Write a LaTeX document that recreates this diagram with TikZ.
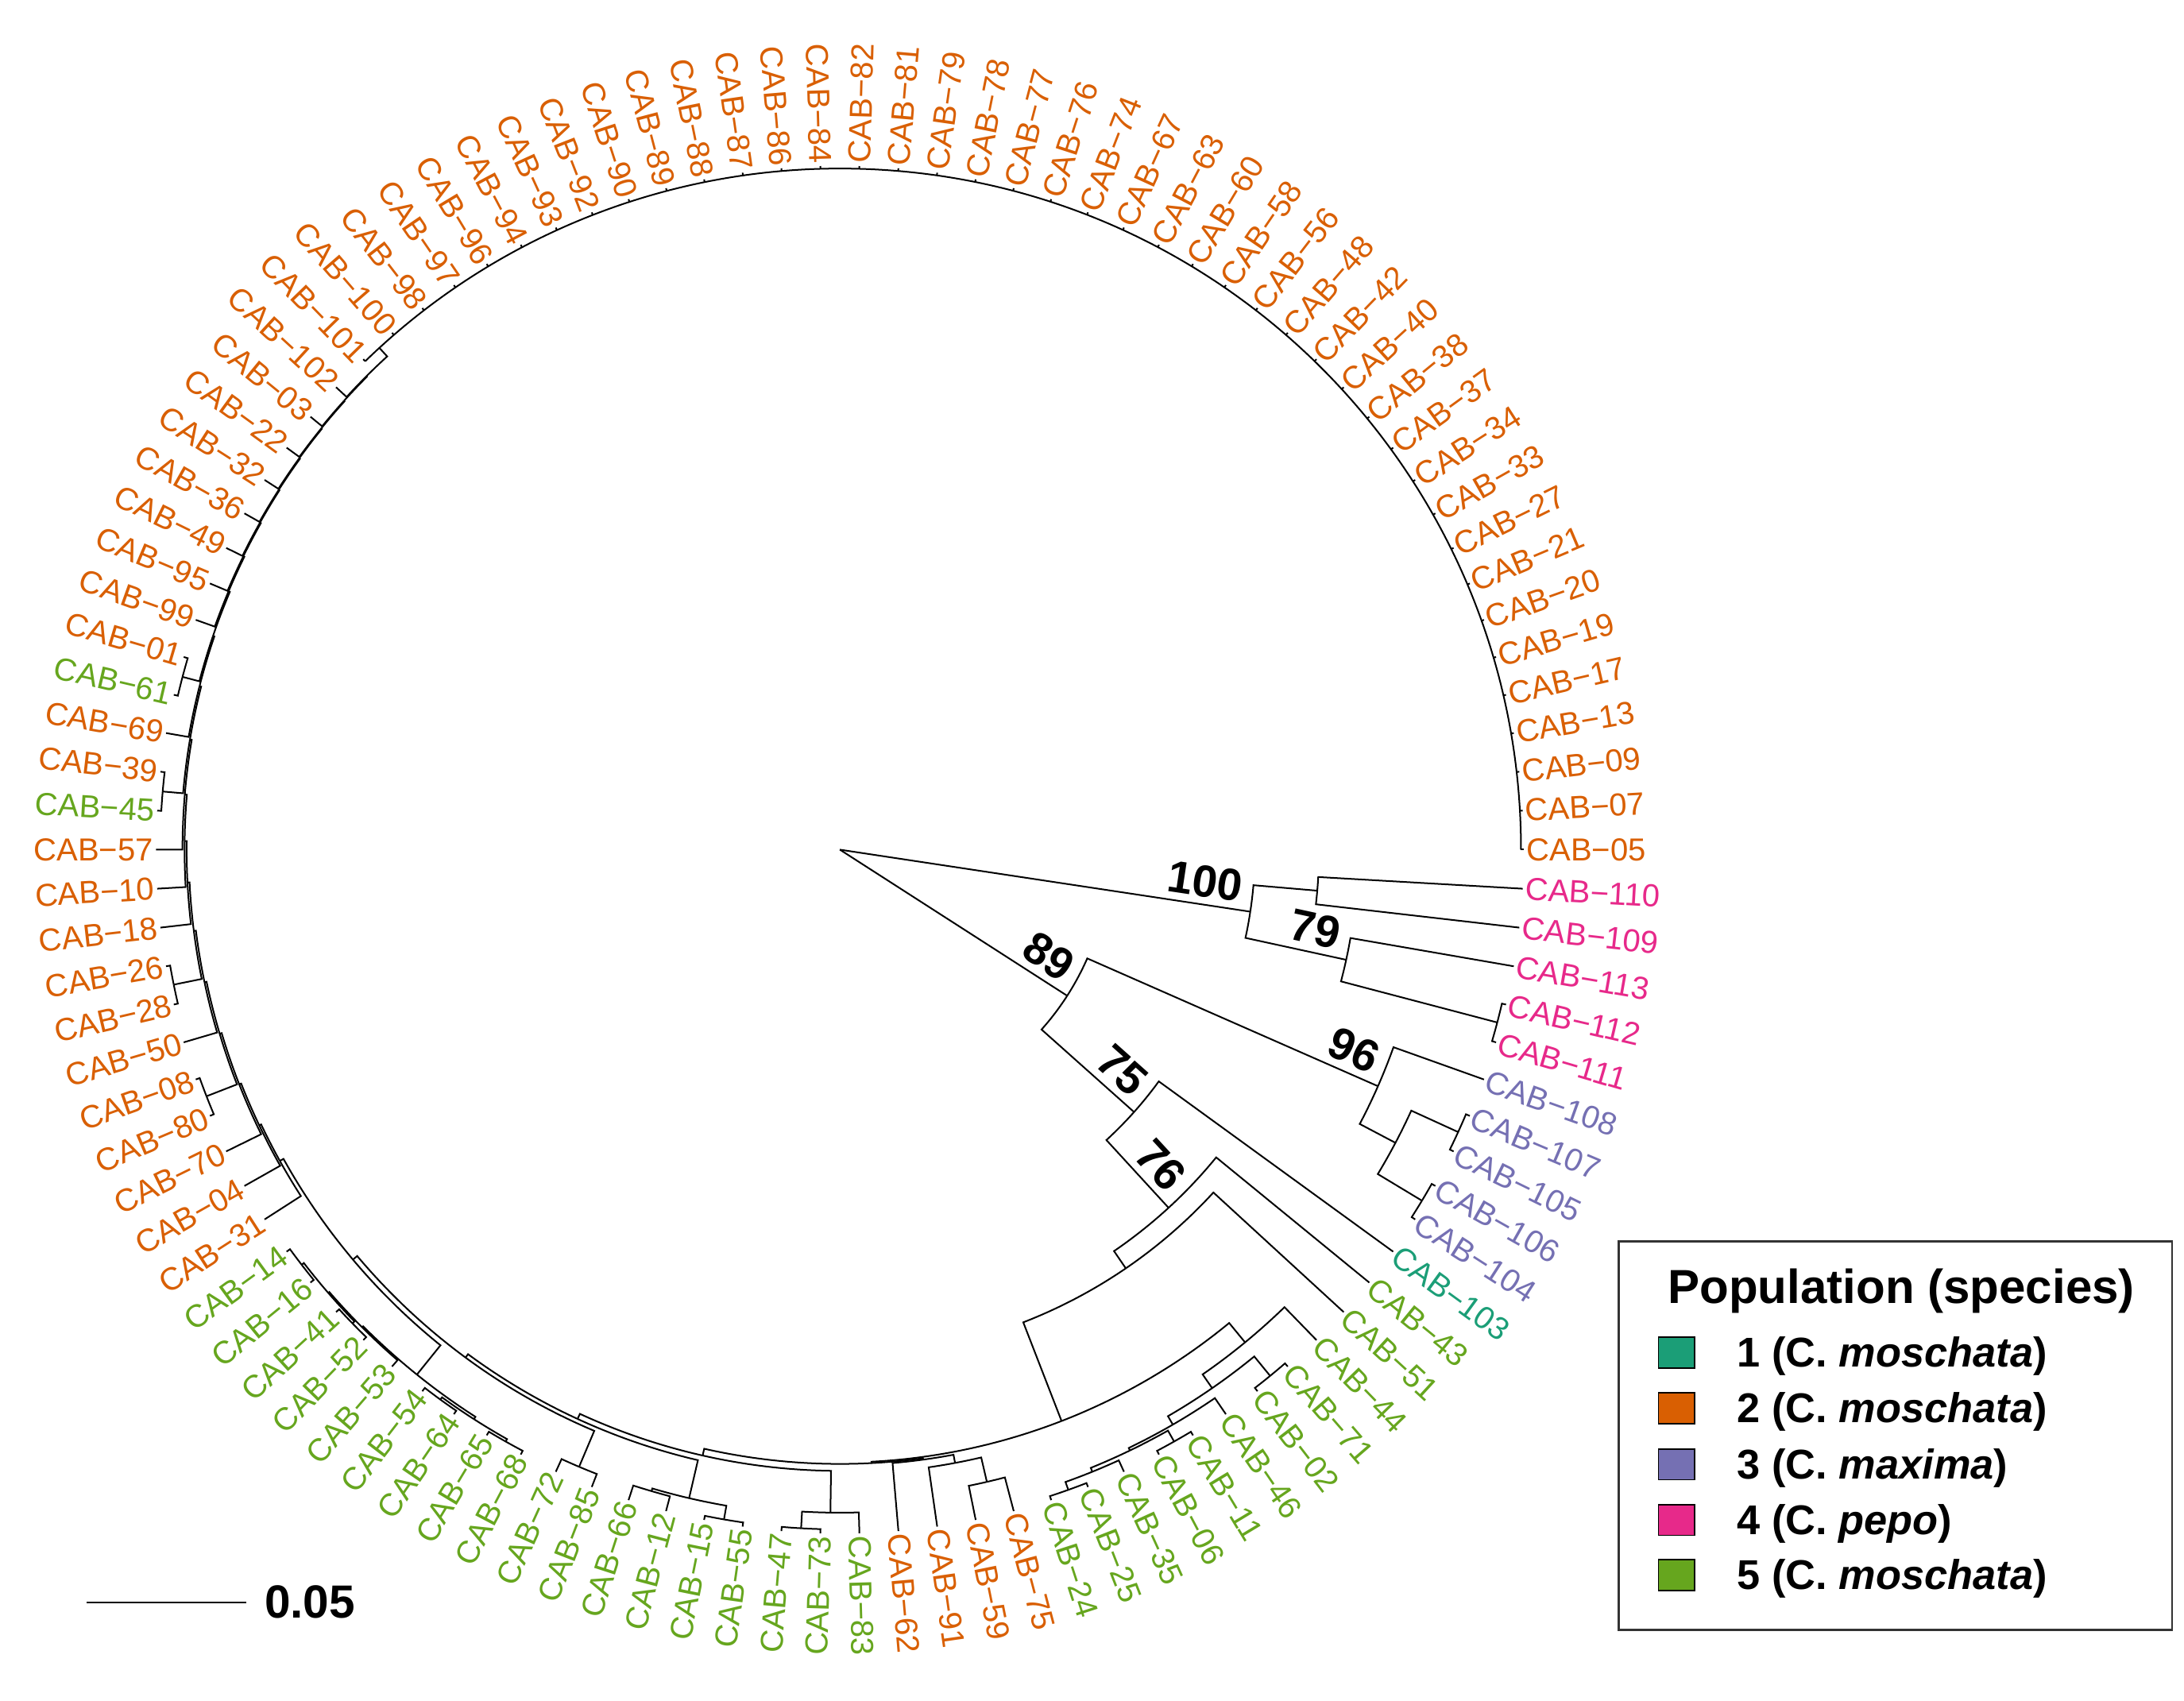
\documentclass[tikz,border=0pt]{standalone}
\usepackage{fontspec}
\setmainfont{Liberation Sans}
\definecolor{cor}{HTML}{D95F02}
\definecolor{cgr}{HTML}{66A61E}
\definecolor{cte}{HTML}{1B9E77}
\definecolor{cpu}{HTML}{7570B3}
\definecolor{cpk}{HTML}{E7298A}
\newcommand\kk{3.2727273}
% branch: parent y, parent r, child y, child r
\newcommand\brn[4]{%
 \pgfmathsetmacro\brA{#1*\kk}\pgfmathsetmacro\brB{#3*\kk}%
 \draw[brl] (\brA:#2) arc[start angle=\brA, end angle=\brB, radius=#2] -- (\brB:#4);}
\newcommand\tipe[3]{\brn{#1}{#2}{#3}{491}}
\newcommand\catn[5]{\tipe{#1}{#2}{#3}\brn{#1}{#2}{#4}{#5}}
\newcommand\labs[3]{%
 \foreach \n [count=\j from #1] in {#3} {%
  \pgfmathsetmacro\ang{\j*\kk}%
  \pgfmathtruncatemacro\flip{and(\ang>90,\ang<270)}%
  \ifnum\flip=1\relax
   \node[lab,text=#2,anchor=east,rotate=\ang+180] (t\j) at (\ang:493) {CAB−\n};%
  \else
   \node[lab,text=#2,anchor=west,rotate=\ang] (t\j) at (\ang:493) {CAB−\n};%
  \fi
 }}
\newcommand\bsn[4]{%
 \pgfmathsetmacro\bsA{#2*\kk}%
 \path ({\bsA}:{#3-8}) ++({\bsA+90}:5) node[bsl, rotate=\bsA, anchor=south east] (#1) {#4};}
\begin{document}
\begin{tikzpicture}[x=0.02cm,y=0.02cm,
  brl/.style={line width=0.65pt, black},
  lab/.style={font=\fontsize{13}{13}\selectfont, inner sep=0pt, outer sep=0pt},
  bsl/.style={font=\bfseries\fontsize{18.4}{18}\selectfont, inner sep=0pt},
  sq/.style={draw=black, line width=0.5pt, minimum width=0.52cm, minimum height=0.44cm, inner sep=0pt},
  lit/.style={font=\bfseries\fontsize{17}{17}\selectfont, inner sep=0pt, anchor=base west}]
\fill[white] (-603,-611) rectangle (965,610);
\useasboundingbox (-603,-611) rectangle (965,610);
\coordinate (root) at (0,0);
% root branches
\draw[brl] (root) -- ({107.375*\kk}:298);
\draw[brl] (root) -- ({100.0*\kk}:194);
% pink clade
\brn{107.375}{298}{108.5}{344}
\brn{107.375}{298}{106.25}{372}
\tipe{108.5}{344}{109}
\tipe{108.5}{344}{108}
\tipe{106.25}{372}{107}
\brn{106.25}{372}{105.5}{488}
\tipe{105.5}{488}{106}
\tipe{105.5}{488}{105}
% node 89
\brn{100.0}{194}{102.75}{422}
\brn{100.0}{194}{97.25}{283}
\tipe{102.75}{422}{104}
\brn{102.75}{422}{101.5}{451}
\brn{101.5}{451}{102.5}{488}
\brn{101.5}{451}{100.5}{488}
\tipe{102.5}{488}{102}\tipe{102.5}{488}{103}
\tipe{100.5}{488}{100}\tipe{100.5}{488}{101}
\tipe{97.25}{283}{99}
\brn{97.25}{283}{95.5}{349}
\tipe{95.5}{349}{98}
\brn{95.5}{349}{92.99}{364}
\tipe{92.99}{364}{97}
\brn{92.99}{364}{88.98}{440}
\brn{88.98}{440}{94.55}{458}
\brn{88.98}{440}{83.4}{441}
% right green clade
\tipe{94.55}{458}{96}
\brn{94.55}{458}{93.09}{470}
\brn{93.09}{470}{94.5}{488}
\tipe{94.5}{488}{95}\tipe{94.5}{488}{94}
\brn{93.09}{470}{91.69}{477}
\tipe{91.69}{477}{93}
\brn{91.69}{477}{90.375}{479}
\brn{90.375}{479}{91.5}{488}
\tipe{91.5}{488}{92}\tipe{91.5}{488}{91}
\brn{90.375}{479}{89.25}{482}
\tipe{89.25}{482}{90}
\brn{89.25}{482}{88.5}{488}
\tipe{88.5}{488}{89}\tipe{88.5}{488}{88}
% L
\brn{83.4}{441}{84.875}{442}
\brn{83.4}{441}{78.6}{446}
\tipe{84.875}{442}{84}
\brn{84.875}{442}{85.75}{448}
\tipe{85.75}{448}{85}
\brn{85.75}{448}{86.5}{466}
\tipe{86.5}{466}{86}\tipe{86.5}{466}{87}
% A
\brn{78.6}{446}{82.25}{476}
\brn{78.6}{446}{74.94}{450}
\tipe{82.25}{476}{83}
\brn{82.25}{476}{81.5}{488}
\tipe{81.5}{488}{81}\tipe{81.5}{488}{82}
\brn{74.94}{450}{78.5}{478}
\brn{74.94}{450}{71.38}{453}
\brn{78.5}{478}{79.5}{488}
\tipe{79.5}{488}{79}\tipe{79.5}{488}{80}
\brn{78.5}{478}{77.5}{480}
\tipe{77.5}{480}{77}\tipe{77.5}{480}{78}
\brn{71.38}{453}{75.5}{481}
\tipe{75.5}{481}{75}\tipe{75.5}{481}{76}
\brn{71.38}{453}{67.25}{457}
\brn{67.25}{457}{70.625}{484}
\brn{67.25}{457}{63.88}{460}
% green clade G
\brn{70.625}{484}{68.75}{485}
\brn{70.625}{484}{72.5}{486}
\brn{68.75}{485}{67.5}{486}
\tipe{68.75}{485}{70}
\brn{67.5}{486}{66.5}{488}
\brn{67.5}{486}{68.5}{488}
\tipe{66.5}{488}{66}\tipe{66.5}{488}{67}
\tipe{68.5}{488}{68}\tipe{68.5}{488}{69}
\brn{72.5}{486}{71.5}{488}
\brn{72.5}{486}{73.5}{488}
\tipe{71.5}{488}{71}\tipe{71.5}{488}{72}
\tipe{73.5}{488}{73}\tipe{73.5}{488}{74}
% U chain
\catn{63.88}{460}{65}{62.76}{461.5}
\catn{62.76}{461.5}{64}{61.52}{463}
\catn{61.52}{463}{63}{60.05}{464.5}
\brn{60.05}{464.5}{61.5}{488}\tipe{61.5}{488}{61}\tipe{61.5}{488}{62}
\brn{60.05}{464.5}{58.6}{466}
\catn{58.6}{466}{60}{57.19}{467.5}
\brn{57.19}{467.5}{58.5}{488}\tipe{58.5}{488}{58}\tipe{58.5}{488}{59}
\brn{57.19}{467.5}{55.88}{469}
\catn{55.88}{469}{57}{54.77}{470.5}
\catn{54.77}{470.5}{56}{53.53}{472}
\catn{53.53}{472}{55}{52.06}{473.3}
\brn{52.06}{473.3}{53.5}{488}\tipe{53.5}{488}{53}\tipe{53.5}{488}{54}
\brn{52.06}{473.3}{50.625}{474.5}
\catn{50.625}{474.5}{52}{49.25}{475.5}
\brn{49.25}{475.5}{50.5}{488}\tipe{50.5}{488}{50}\tipe{50.5}{488}{51}
\brn{49.25}{475.5}{48}{476.5}
\catn{48}{476.5}{49}{47}{477.3}
\catn{47}{477.3}{48}{46.01}{478}
\catn{46.01}{478}{47}{45.02}{478.6}
\catn{45.02}{478.6}{46}{44.03}{479.2}
\catn{44.03}{479.2}{45}{43.06}{479.7}
\catn{43.06}{479.7}{44}{42.125}{480.2}
\catn{42.125}{480.2}{43}{41.25}{480.7}
\catn{41.25}{480.7}{42}{40.5}{489}
% top clade
\draw[brl] (0:489) arc[start angle=0, end angle={41*\kk}, radius=489];
\foreach \i in {0,...,41} {\draw[brl] ({\i*\kk}:489) -- ({\i*\kk}:491);}
% tip labels
\labs{0}{cor}{05,07,09,13,17,19,20,21,27,33,34,37,38,40,42,48,56,58,60,63,67,74,76,77,78,79,81,82,84,86,87,88,89,90,92,93,94,96,97,98,100,101,102,03,22,32,36,49,95,99,01}
\labs{51}{cgr}{61}
\labs{52}{cor}{69,39}
\labs{54}{cgr}{45}
\labs{55}{cor}{57,10,18,26,28,50,08,80,70,04,31}
\labs{66}{cgr}{14,16,41,52,53,54,64,65,68,72,85,66,12,15,55,47,73,83}
\labs{84}{cor}{62,91,59,75}
\labs{88}{cgr}{24,25,35,06,11,46,02,71,44,51,43}
\labs{99}{cte}{103}
\labs{100}{cpu}{104,106,105,107,108}
\labs{105}{cpk}{111,112,113,109,110}
% bootstrap values
\bsn{b100}{107.375}{298}{100}
\bsn{b79}{106.25}{372}{79}
\bsn{b89}{100.0}{194}{89}
\bsn{b96}{102.75}{422}{96}
\bsn{b75}{97.25}{283}{75}
\bsn{b76}{95.5}{349}{76}
% scale bar
\coordinate (sbl) at (-540.6,-540.5);
\coordinate (sbr) at (-426,-540.5);
\draw[line width=0.7pt] (sbl) -- (sbr);
\node[font=\bfseries\fontsize{19}{19}\selectfont, inner sep=0pt, anchor=base west] (sbt) at (-413.3,-551.7) {0.05};
% legend
\node[draw=black!80, line width=0.9pt, minimum width=7.95cm, minimum height=5.58cm, inner sep=0pt] (leg) at (757.75,-420.5) {};
\node[font=\bfseries\fontsize{19.5}{20}\selectfont, inner sep=0pt, anchor=base] (lt) at (762,-326) {Population (species)};
\node[sq, fill=cte] (s1) at (600.6,-361.1) {};
\node[sq, fill=cor] (s2) at (600.6,-401) {};
\node[sq, fill=cpu] (s3) at (600.6,-441.4) {};
\node[sq, fill=cpk] (s4) at (600.6,-481.3) {};
\node[sq, fill=cgr] (s5) at (600.6,-520.8) {};
\node[lit] (l1) at (643.9,-371.5) {1 (C. \textit{moschata})};
\node[lit] (l2) at (643.9,-411.4) {2 (C. \textit{moschata})};
\node[lit] (l3) at (643.9,-451.8) {3 (C. \textit{maxima})};
\node[lit] (l4) at (643.9,-491.7) {4 (C. \textit{pepo})};
\node[lit] (l5) at (643.9,-531.2) {5 (C. \textit{moschata})};
\end{tikzpicture}
\end{document}
